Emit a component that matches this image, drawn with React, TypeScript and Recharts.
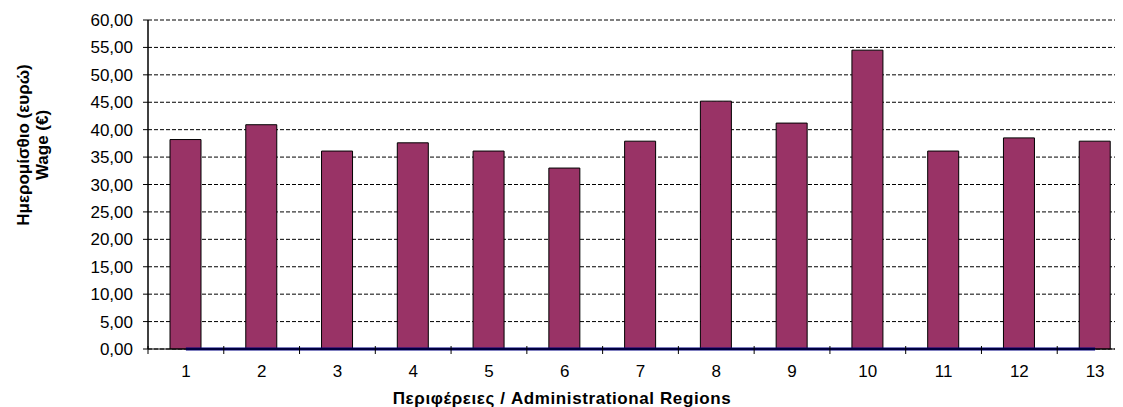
import React from "react";
import {
  Bar,
  CartesianGrid,
  ComposedChart,
  Line,
  XAxis,
  YAxis,
} from "recharts";

const regions = ["1", "2", "3", "4", "5", "6", "7", "8", "9", "10", "11", "12", "13"];
const wages = [38.2, 40.9, 36.1, 37.6, 36.1, 33.0, 37.9, 45.2, 41.2, 54.5, 36.1, 38.5, 37.9];
const zeroLine = [0, 0, 0, 0, 0, 0, 0, 0, 0, 0, 0, 0, 0];
const yTicks = [0, 5, 10, 15, 20, 25, 30, 35, 40, 45, 50, 55, 60];

const yTitle = "Ημερομίσθιο (ευρώ)";
const yTitle2 = "Wage (€)";
const xTitle = "Περιφέρειες /  Administrational Regions";

const data = regions.map((name, i) => ({
  name,
  wage: wages[i],
  zero: zeroLine[i],
}));

const CHART_W = 1125;
const CHART_H = 399;
const AXIS_W = 140;
const AXIS_H = 58;
const FONT = '"Liberation Sans", Arial, sans-serif';
const band = (CHART_W - AXIS_W) / regions.length;

const fmt = (v: number) => v.toFixed(2).replace(".", ",");

function XTick(props: any) {
  const { x, y, payload } = props;
  const left = x - band / 2;
  return (
    <g>
      <line x1={left} x2={left} y1={y - 3} y2={y + 5} stroke="#000" strokeWidth={1} />
      <text
        x={x}
        y={y + 28}
        textAnchor="middle"
        fontSize={17}
        fontFamily={FONT}
        fill="#000"
      >
        {payload.value}
      </text>
    </g>
  );
}

export default function App() {
  return (
    <div style={{ width: 1115, height: CHART_H, overflow: "hidden", background: "#fff" }}>
      <div style={{ position: "relative", width: CHART_W, height: CHART_H }}>
        <ComposedChart
          width={CHART_W}
          height={CHART_H}
          data={data}
          margin={{ top: 12, right: 0, bottom: 0, left: 0 }}
        >
          <CartesianGrid vertical={false} stroke="#000" strokeDasharray="4 2" />
          <XAxis
            dataKey="name"
            height={AXIS_H}
            axisLine={{ stroke: "#000", strokeWidth: 1 }}
            tickLine={false}
            tickSize={0}
            tickMargin={0}
            interval={0}
            tick={<XTick />}
          />
          <YAxis
            width={AXIS_W}
            domain={[0, 60]}
            ticks={yTicks}
            interval={0}
            axisLine={{ stroke: "#000", strokeWidth: 1.5 }}
            tickLine={{ stroke: "#000" }}
            tickSize={5}
            tickMargin={10}
            tickFormatter={fmt}
            tick={{ fontSize: 17, fontFamily: FONT, fill: "#000" }}
          />
          <Bar
            dataKey="wage"
            fill="#993366"
            stroke="#000"
            strokeWidth={1}
            barSize={31}
            isAnimationActive={false}
          />
          <Line
            dataKey="zero"
            stroke="#000080"
            strokeWidth={3}
            dot={false}
            activeDot={false}
            isAnimationActive={false}
          />
        </ComposedChart>
        <svg
          width={CHART_W}
          height={CHART_H}
          style={{ position: "absolute", left: 0, top: 0, pointerEvents: "none" }}
        >
          <g fontFamily={FONT} fontWeight="bold" fontSize={17} fill="#000">
            <text
              x={15}
              y={137}
              textAnchor="middle"
              dominantBaseline="central"
              transform="rotate(-90, 15, 137)"
            >
              {yTitle}
            </text>
            <text
              x={34}
              y={137}
              textAnchor="middle"
              dominantBaseline="central"
              transform="rotate(-90, 34, 137)"
            >
              {yTitle2}
            </text>
            <text x={554} y={396} textAnchor="middle" letterSpacing={0.6}>
              {xTitle}
            </text>
          </g>
        </svg>
      </div>
    </div>
  );
}
